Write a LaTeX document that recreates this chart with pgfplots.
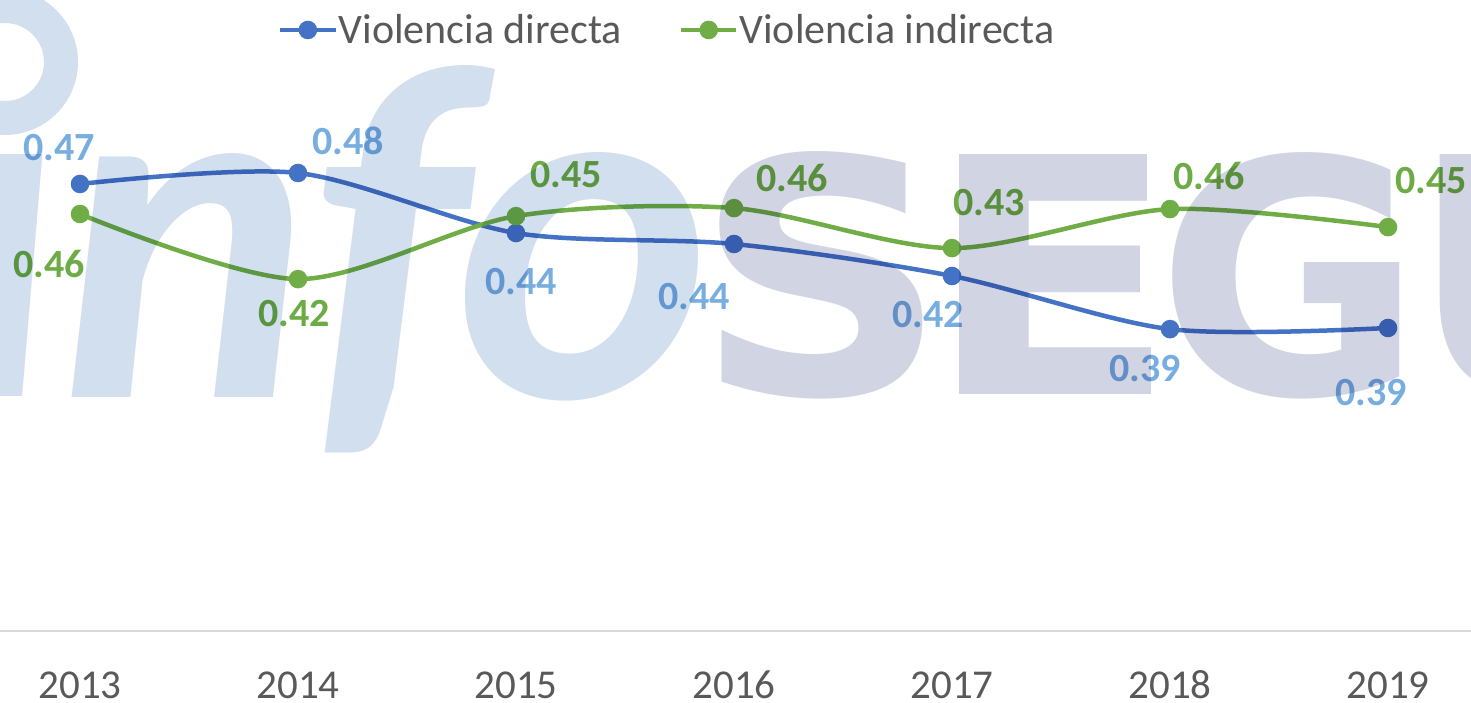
\documentclass[border=0pt]{standalone}
\usepackage{fontspec}
\setmainfont{Carlito}
\newfontfamily\wmsans{DejaVu Sans}
\newfontfamily\wmital{Carlito}
\usepackage{pgfplots}
\pgfplotsset{compat=1.18}
\usepackage{pgfplotstable}
\definecolor{bline}{HTML}{4472C4}
\definecolor{gline}{HTML}{70AD47}
\definecolor{blab}{HTML}{78ADE0}
\definecolor{glab}{HTML}{6DAB45}
\definecolor{ticktxt}{HTML}{595959}
\definecolor{axline}{HTML}{D9D9D9}
\definecolor{wminfo}{HTML}{D2DFEF}
\definecolor{wmsegu}{HTML}{D1D4E3}

% watermark glyph placed by its ink box (reference pixel coordinates)
% #1 font, #2 colour, #3 char code, #4 ink left, #5 ink right, #6 ink top, #7 baseline
\makeatletter
\newcommand\wminner[5]{%
  \dimen0=\XeTeXglyphbounds1 \XeTeXcharglyph#1\relax
  \dimen2=\XeTeXglyphbounds3 \XeTeXcharglyph#1\relax
  \dimen4=\XeTeXglyphbounds2 \XeTeXcharglyph#1\relax
  \setbox0=\hbox{\char#1}%
  \dimen6=\dimexpr\wd0-\dimen0-\dimen2\relax
  \pgfmathsetmacro\wmxs{0.5*((#3)-(#2))/\strip@pt\dimen6}%
  \pgfmathsetmacro\wmys{0.5*((#5)-(#4))/\strip@pt\dimen4}%
  \pgfmathsetmacro\wmsh{\wmxs*(\strip@pt\dimen0)}%
  \hspace*{-\wmsh pt}\scalebox{\wmxs}[\wmys]{\char#1}}
\newcommand\wmglyph[7]{%
  \node[anchor=base west, inner sep=0pt, outer sep=0pt, text=#2, font=#1]
    at ({0.5pt*(#4)},{315.5pt-0.5pt*(#7)}) {\wminner{#3}{#4}{#5}{#6}{#7}};}
\makeatother

% x = category index, y = value, dx/dy = label offset (px), lab = label
\pgfplotstableread{
x y dx dy lab
0 0.4726 -21 -36 0.47
1 0.4793 50 -32 0.48
2 0.4427 5 49 0.44
3 0.4360 -40 53 0.44
4 0.4165 -24 39 0.42
5 0.3841 -25 39 0.39
6 0.3848 -17 65 0.39
}\directa
\pgfplotstableread{
x y dx dy lab
0 0.4543 -31 50 0.46
1 0.4146 -4 34 0.42
2 0.4530 50 -42 0.45
3 0.4579 58 -30 0.46
4 0.4335 37 -46 0.43
5 0.4573 39 -33 0.46
6 0.4463 43 -47 0.45
}\indirecta

\begin{document}
\begin{tikzpicture}
\begin{axis}[
  at={(0,0)}, anchor=south west,
  scale only axis, width=735.5pt, height=315.5pt,
  xmin=-0.36697, xmax=6.38073, ymin=0.2, ymax=0.5848,
  clip=false,
  axis y line=none, axis x line=bottom,
  axis line style={-, draw=axline, line width=1pt},
  xtick={0,1,2,3,4,5,6},
  xticklabels={2013,2014,2015,2016,2017,2018,2019},
  major tick length=0pt,
  xticklabel style={anchor=base, inner sep=0pt, yshift=-33.5pt, text=ticktxt, font=\fontsize{20.5}{20.5}\selectfont},
  ytick=\empty,
  legend columns=2,
  legend style={at={(rel axis cs:0.1888,0.9525)}, anchor=west, draw=none, fill=none,
    inner sep=0pt, font=\fontsize{21}{21}\selectfont, text=ticktxt,
    nodes={inner sep=0pt},
    /tikz/every even column/.append style={column sep=28.5pt},
    /tikz/every odd column/.append style={column sep=0.5pt}},
  legend cell align=left,
  legend image code/.code={\draw[mark repeat=2,mark phase=2,#1] plot coordinates {(0pt,0pt) (13.75pt,0pt) (27.5pt,0pt)};},
  visualization depends on={\thisrow{dx}\as\ldx},
  visualization depends on={\thisrow{dy}\as\ldy},
]
\addplot[bline, line width=2.25pt, smooth, mark=*, mark size=3.5pt,
  nodes near coords, point meta=explicit symbolic,
  every node near coord/.append style={anchor=center, inner sep=0pt,
    xshift={0.5pt*\ldx}, yshift={-0.5pt*\ldy}, text=blab,
    font=\bfseries\fontsize{20}{20}\selectfont}]
  table[x=x, y=y, meta=lab] {\directa};
\addlegendentry{Violencia directa}
\addplot[gline, line width=2.25pt, smooth, mark=*, mark size=3.5pt,
  nodes near coords, point meta=explicit symbolic,
  every node near coord/.append style={anchor=center, inner sep=0pt,
    xshift={0.5pt*\ldx}, yshift={-0.5pt*\ldy}, text=glab,
    font=\bfseries\fontsize{20}{20}\selectfont}]
  table[x=x, y=y, meta=lab] {\indirecta};
\addlegendentry{Violencia indirecta}
\end{axis}
% watermark (logo "infoSEGU..."), drawn over the chart as in the reference
\begin{scope}[blend mode=multiply]
  \begin{scope}[shift={(0pt,315.5pt)}, x=0.5pt, y=-0.5pt]
    \draw[wminfo, line width=17pt] (5,62) circle[radius=56];
  \end{scope}
  \wmglyph{\wmital\bfseries\itshape\fontsize{262pt}{262pt}\selectfont}{wminfo}{"0131}{-20}{43}{155}{397}
  \wmglyph{\wmital\bfseries\itshape\fontsize{262pt}{262pt}\selectfont}{wminfo}{`n}{72}{293}{153}{397}
  \wmglyph{\wmital\bfseries\itshape\fontsize{262pt}{262pt}\selectfont}{wminfo}{`f}{323}{495}{65}{397}
  \wmglyph{\wmital\bfseries\itshape\fontsize{262pt}{262pt}\selectfont}{wminfo}{`o}{465}{698}{152}{397}
  \wmglyph{\wmsans\bfseries\fontsize{164.5pt}{164.5pt}\selectfont}{wmsegu}{`S}{720}{923}{152}{395}
  \wmglyph{\wmsans\bfseries\fontsize{164.5pt}{164.5pt}\selectfont}{wmsegu}{`E}{960}{1152}{155}{395}
  \wmglyph{\wmsans\bfseries\fontsize{164.5pt}{164.5pt}\selectfont}{wmsegu}{`G}{1173}{1400}{153}{395}
  \wmglyph{\wmsans\bfseries\fontsize{164.5pt}{164.5pt}\selectfont}{wmsegu}{`U}{1440}{1650}{155}{395}
\end{scope}
\pgfresetboundingbox
\useasboundingbox (0pt,-35.5pt) rectangle (735.5pt,315.5pt);
\end{tikzpicture}
\end{document}
